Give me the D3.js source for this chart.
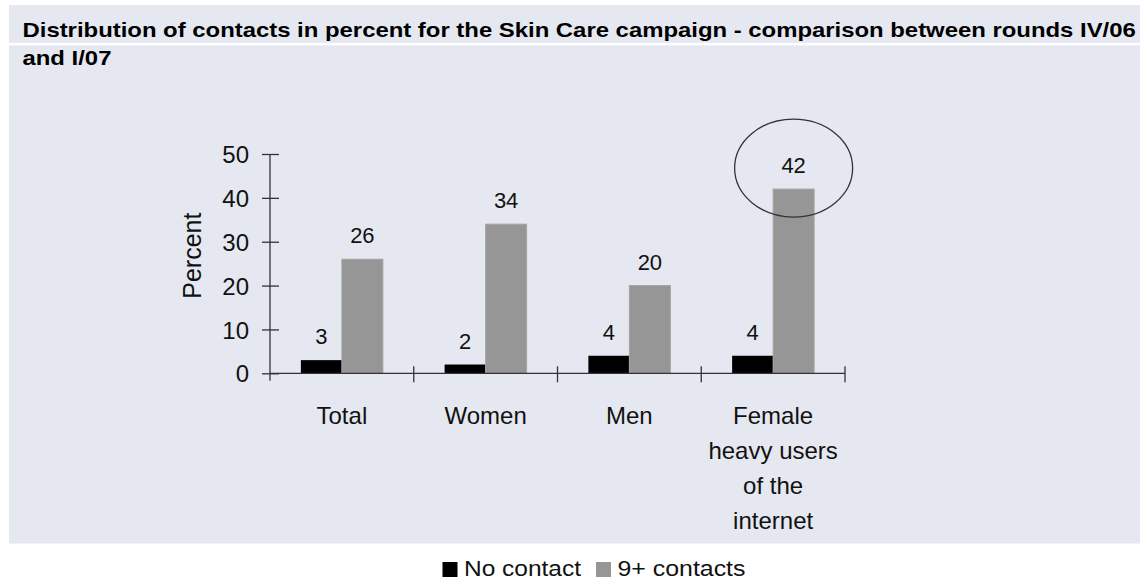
<!DOCTYPE html>
<html>
<head>
<meta charset="utf-8">
<script src="https://cdn.jsdelivr.net/npm/d3@7"></script>
<style>
  html, body { margin: 0; padding: 0; background: #ffffff; }
  svg { display: block; font-family: Arial, "Liberation Sans", sans-serif; }
</style>
</head>
<body>
<svg id="chart" width="1147" height="580"></svg>
<script>
// Chart data
const categories = ["Total", "Women", "Men", "Female\nheavy users\nof the\ninternet"];
const seriesNames = ["No contact", "9+ contacts"];
const noContact = [3, 2, 4, 4];
const ninePlus = [26, 34, 20, 42];
const yTicks = [0, 10, 20, 30, 40, 50];
const titleLines = [
  "Distribution of contacts in percent for the Skin Care campaign - comparison between rounds IV/06",
  "and I/07"
];
const highlighted = 3; // category whose 9+ bar is circled

const colors = { "No contact": "#000000", "9+ contacts": "#969696" };

const svg = d3.select("#chart");

// Background panel with a thin white separator under the first title line
svg.append("rect").attr("x", 9).attr("y", 5).attr("width", 1131).attr("height", 538.5).attr("fill", "#e5e8f0");
svg.append("rect").attr("x", 9).attr("y", 42.8).attr("width", 1131).attr("height", 2.6).attr("fill", "#ffffff");

// Title: condensed bold, both lines share the same horizontal squeeze
const titleY = [36.8, 64.8];
const titleX = 22.5;
const titleWidth = 1114.5;
const titleNodes = titleLines.map((t, i) => svg.append("text")
  .attr("x", 0).attr("y", titleY[i])
  .attr("font-size", 20).attr("font-weight", "bold").attr("fill", "#000")
  .text(t));
const squeeze = titleWidth / titleNodes[0].node().getComputedTextLength();
titleNodes.forEach(n => n.attr("transform", `translate(${titleX},0) scale(${squeeze},1)`));

// Scales
const x0 = d3.scaleBand().domain(d3.range(categories.length)).range([270, 845]).paddingInner(0).paddingOuter(0);
const y = d3.scaleLinear().domain([0, 50]).range([373.3, 154]);
const barW = 41;

const data = categories.map((c, i) => ({ i, values: [noContact[i], ninePlus[i]] }));

// Bars
const groups = svg.append("g").selectAll("g").data(data).join("g");
groups.selectAll("rect").data(d => d.values.map((v, k) => ({ v, k, i: d.i }))).join("rect")
  .attr("x", d => x0(d.i) + x0.bandwidth() / 2 - barW + d.k * barW)
  .attr("y", d => y(d.v))
  .attr("width", barW)
  .attr("height", d => y(0) - y(d.v))
  .attr("fill", d => colors[seriesNames[d.k]])
  .attr("stroke", d => d.k === 1 ? "#a4a4a4" : "none")
  .attr("stroke-width", 1);

// Value labels
groups.selectAll("text").data(d => d.values.map((v, k) => ({ v, k, i: d.i }))).join("text")
  .attr("x", d => x0(d.i) + x0.bandwidth() / 2 - barW / 2 + d.k * barW)
  .attr("y", d => y(d.v) - 16)
  .attr("text-anchor", "middle")
  .attr("font-size", 22).attr("fill", "#111")
  .text(d => d.v);

// Y axis
const yAxis = d3.axisLeft(y).tickValues(yTicks).tickSize(0).tickPadding(0);
const gy = svg.append("g").attr("transform", "translate(270,0)").call(yAxis);
gy.select(".domain").remove();
gy.append("line").attr("x1", 0).attr("x2", 0).attr("y1", y(50)).attr("y2", y(0) + 7.5).attr("stroke", "#333").attr("stroke-width", 1.3);
gy.selectAll(".tick line").remove();
gy.selectAll(".tick").append("line").attr("x1", -8).attr("x2", 9).attr("stroke", "#333").attr("stroke-width", 1.3);
gy.selectAll(".tick text").attr("x", -21).attr("dy", "0.36em")
  .attr("font-size", 24).attr("fill", "#111").attr("font-family", "Arial, 'Liberation Sans', sans-serif");

// Y axis title
svg.append("text")
  .attr("transform", `translate(201,${(y(50) + y(0)) / 2 - 8}) rotate(-90)`)
  .attr("text-anchor", "middle")
  .attr("font-size", 25).attr("fill", "#111")
  .text("Percent");

// X axis with category separators
const gx = svg.append("g");
gx.append("line").attr("x1", 270).attr("x2", 845).attr("y1", y(0)).attr("y2", y(0)).attr("stroke", "#333").attr("stroke-width", 1.3);
const boundaries = d3.range(1, categories.length + 1).map(i => x0(i - 1) + x0.bandwidth());
gx.selectAll("line.sep").data(boundaries).join("line").attr("class", "sep")
  .attr("x1", d => d).attr("x2", d => d)
  .attr("y1", y(0) - 7).attr("y2", y(0) + 9)
  .attr("stroke", "#333").attr("stroke-width", 1.3);

// Category labels (multi-line)
const catText = svg.append("g").selectAll("text").data(categories).join("text")
  .attr("x", (d, i) => x0(i) + x0.bandwidth() / 2)
  .attr("y", 423.5)
  .attr("text-anchor", "middle")
  .attr("font-size", 24).attr("fill", "#111");
catText.each(function (d) {
  const t = d3.select(this);
  d.split("\n").forEach((line, j) => {
    t.append("tspan").attr("x", t.attr("x")).attr("dy", j === 0 ? 0 : 35.2).text(line);
  });
});

// Highlight ellipse around the largest 9+ bar
const hx = x0(highlighted) + x0.bandwidth() / 2 + barW / 2;
svg.append("ellipse")
  .attr("cx", hx).attr("cy", y(ninePlus[highlighted]) - 21)
  .attr("rx", 59).attr("ry", 49)
  .attr("fill", "none").attr("stroke", "#333").attr("stroke-width", 1.3);

// Legend
const legendX = [442.5, 596];
const legendTextW = [117, 128];
const legend = svg.append("g").selectAll("g").data(seriesNames).join("g")
  .attr("transform", (d, i) => `translate(${legendX[i]},0)`);
legend.append("rect").attr("x", 0).attr("y", 562).attr("width", 15).attr("height", 15)
  .attr("fill", d => colors[d]);
legend.append("text").attr("x", 21.5).attr("y", 575.5).attr("font-size", 22).attr("fill", "#111")
  .attr("textLength", (d, i) => legendTextW[i]).attr("lengthAdjust", "spacingAndGlyphs")
  .text(d => d);
</script>
</body>
</html>
